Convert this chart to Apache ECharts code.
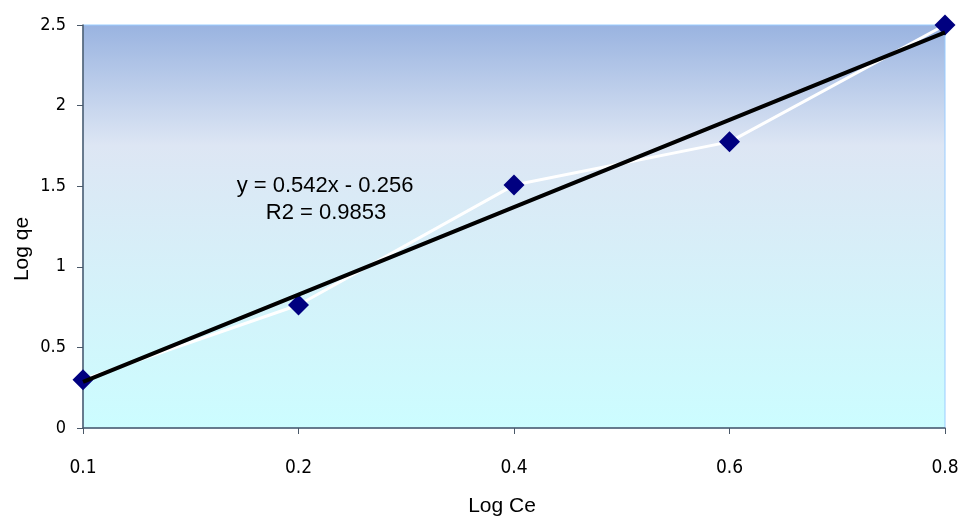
<!DOCTYPE html>
<html>
<head>
<meta charset="utf-8">
<script src="https://cdn.jsdelivr.net/npm/echarts@6/dist/echarts.min.js"></script>
<style>html,body{margin:0;padding:0;background:#fff}#c{width:959px;height:517px}</style>
</head>
<body>
<div id="c"></div>
<script>
var categories = ['0.1', '0.2', '0.4', '0.6', '0.8'];
var logQe = [0.3, 0.763, 1.507, 1.775, 2.5];
var yTicks = [0, 0.5, 1, 1.5, 2, 2.5];
var slope = 0.542, intercept = -0.256;
var trend = categories.map(function (c, i) { return +(slope * (i + 1) + intercept).toFixed(3); });

var chart = echarts.init(document.getElementById('c'));
var font = 'Liberation Sans, Arial, sans-serif';
var narrow = '"Liberation Sans Narrow", "DejaVu Sans Condensed", "Arial Narrow", sans-serif';
chart.setOption({
  animation: false,
  grid: {
    left: 83, right: 14, top: 25, bottom: 89,
    containLabel: false,
    outerBoundsMode: 'none',
    show: true,
    borderColor: '#99CCFF', borderWidth: 1,
    backgroundColor: new echarts.graphic.LinearGradient(0, 0, 0, 1, [
      { offset: 0, color: '#99B3E0' },
      { offset: 0.3, color: '#DDE6F4' },
      { offset: 1, color: '#CCFDFF' }
    ])
  },
  xAxis: {
    type: 'category',
    data: categories,
    boundaryGap: false,
    axisLine: { lineStyle: { color: '#4A5868', width: 1.5 } },
    axisTick: { show: true, length: 6, lineStyle: { color: '#4A5868' } },
    axisLabel: { margin: 31, fontFamily: narrow, fontSize: 19, color: '#000' },
    splitLine: { show: false }
  },
  yAxis: {
    type: 'value',
    min: 0, max: 2.5, interval: 0.5,
    axisLine: { show: true, lineStyle: { color: '#4A5868', width: 1.5 } },
    axisTick: { show: true, length: 6, lineStyle: { color: '#4A5868' } },
    axisLabel: { margin: 17, fontFamily: narrow, fontSize: 18, color: '#000',
      formatter: function (v) { return yTicks.indexOf(v) >= 0 ? String(v) : ''; } },
    splitLine: { show: false }
  },
  series: [
    {
      name: 'Log qe',
      type: 'line',
      data: logQe,
      symbol: 'diamond',
      symbolSize: 21,
      itemStyle: { color: '#000080' },
      lineStyle: { color: '#FFFFFF', width: 3 },
      z: 2
    },
    {
      name: 'Trend',
      type: 'line',
      data: trend,
      symbol: 'none',
      lineStyle: { color: '#000000', width: 4 },
      z: 3
    }
  ],
  graphic: [
    {
      type: 'text', x: 325, y: 186,
      style: { text: 'y = 0.542x - 0.256', fontFamily: font, fontSize: 22, fill: '#000',
        align: 'center', verticalAlign: 'middle' }
    },
    {
      type: 'text', x: 326, y: 213,
      style: { text: 'R2 = 0.9853', fontFamily: font, fontSize: 22, fill: '#000',
        align: 'center', verticalAlign: 'middle' }
    },
    {
      type: 'text', x: 502, y: 506,
      style: { text: 'Log Ce', fontFamily: font, fontSize: 21, fill: '#000',
        align: 'center', verticalAlign: 'middle' }
    },
    {
      type: 'text', x: 22, y: 249, rotation: Math.PI / 2,
      style: { text: 'Log qe', fontFamily: font, fontSize: 21, fill: '#000',
        align: 'center', verticalAlign: 'middle' }
    }
  ]
});
</script>
</body>
</html>
